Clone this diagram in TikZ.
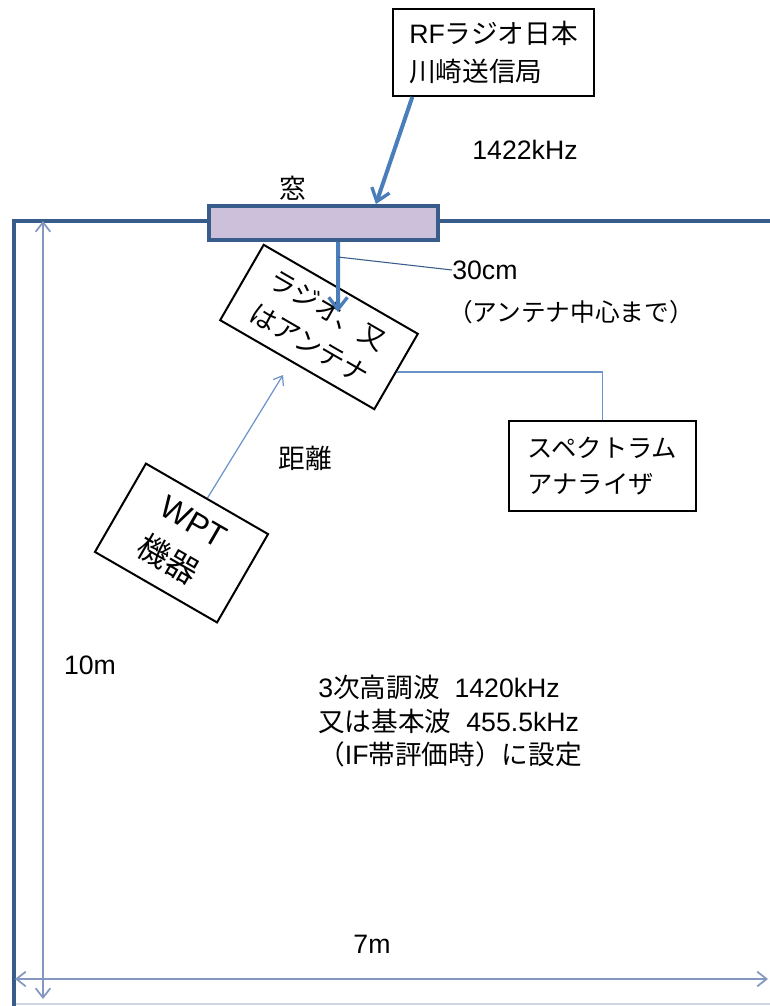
\documentclass[tikz,border=0pt]{standalone}
\usepackage{fontspec}
\setmainfont{Liberation Sans}
\newfontfamily\jp{Noto Sans CJK JP}
\usetikzlibrary{arrows.meta,calc}
\definecolor{wall}{HTML}{385D8A}
\definecolor{winfill}{HTML}{CCC0DA}
\definecolor{arr}{HTML}{4A7EBB}
\definecolor{thinblue}{HTML}{6A93C8}
\definecolor{dimc}{HTML}{8497C0}
\begin{document}
\begin{tikzpicture}[x=0.75pt,y=-0.75pt,
  font=\fontsize{20}{28}\selectfont,
  box/.style={draw=black, line width=1.5pt, fill=white, inner sep=0pt},
  lbl/.style={inner sep=0pt},
  thickarrow/.style={draw=arr, line width=3pt, -{Straight Barb[length=9pt,width=14pt,line width=2.5pt]}},
  thinarrow/.style={draw=thinblue, line width=0.9pt, -{Straight Barb[length=6pt,width=9pt]}},
  dimarrow/.style={draw=dimc, line width=1.3pt, {Straight Barb[length=7pt,width=11pt]}-{Straight Barb[length=7pt,width=11pt]}},
  thinline/.style={draw=thinblue, line width=1.2pt},
  darkline/.style={draw=wall, line width=0.8pt}]
\useasboundingbox (0,0) rectangle (769,1006);
\fill[white] (0,0) rectangle (769,1006);

% room
\draw[dimc!40, line width=1pt] (14,1004) -- (780,1004);
\draw[wall, line width=3pt] (14,1012) -- (14,221) -- (780,221);

% window
\node[draw=wall, fill=winfill, line width=3pt, minimum width=229*0.75pt, minimum height=34*0.75pt, inner sep=0pt] (win) at (323.5,223) {};
\node[lbl] (wintxt) at (293,188) {\jp 窓};

% boxes
\node[box, minimum width=201*0.75pt, minimum height=87*0.75pt, align=left] (rf) at (493.5,52.5)
  {RF{\jp ラジオ日本}\\{\jp 川崎送信局}};
\node[box, rotate=-30, minimum width=178*0.75pt, minimum height=87*0.75pt, align=left,
  font=\fontsize{20}{29}\selectfont] (radio) at (319,327)
  {\jp ラジオ、又\\\jp はアンテナ};
\node[box, rotate=-30, minimum width=141*0.75pt, minimum height=102*0.75pt, align=left,
  font=\fontsize{24}{34}\selectfont] (wpt) at (181.5,543)
  {WPT\\{\jp 機器}};
\node[box, minimum width=187*0.75pt, minimum height=90*0.75pt, align=left,
  font=\fontsize{19}{27}\selectfont] (sa) at (602.5,466)
  {\jp スペクトラム\\\jp アナライザ};

% labels
\node[lbl] (f1422) at (525,150) {1422kHz};
\node[lbl, anchor=west] (t30) at (452,270) {30cm};
\node[lbl, anchor=west, font=\fontsize{18.5}{24}\selectfont] (tcenter) at (448,312) {\jp （アンテナ中心まで）};
\node[lbl] (kyori) at (305,458) {\jp 距離};
\node[lbl] (t10) at (90,665) {10m};
\node[lbl] (t7) at (372,944) {7m};
\node[lbl, anchor=north west, align=left, font=\fontsize{20}{25}\selectfont] (note) at (318,675)
  {3{\jp 次高調波}\ \ 1420kHz\\{\jp 又は基本波}\ \ 455.5kHz\\{\jp （}IF{\jp 帯評価時）に設定}};

% connectors
\coordinate (ahead) at (338,312);
\coordinate (wptend) at (283,375);
\coordinate (c30) at (338,257);
\draw[thickarrow] ($(rf.south west)!0.1!(rf.south east)$) -- ($(win.north west)!0.725!(win.north east)$);
\draw[thickarrow] ($(win.south west)!0.563!(win.south east)$) -- (ahead);
\draw[darkline] (c30) -- (t30.west);
\draw[thinline] (radio.east) -| (sa.north);
\draw[thinarrow] (wpt.north) -- (wptend);

% dimensions
\coordinate (vtop) at (43,221);
\coordinate (vbot) at (43,999);
\coordinate (hl) at (15,979);
\coordinate (hr) at (768,979);
\draw[dimarrow] (vtop) -- (vbot);
\draw[dimarrow] (hl) -- (hr);
\end{tikzpicture}
\end{document}
